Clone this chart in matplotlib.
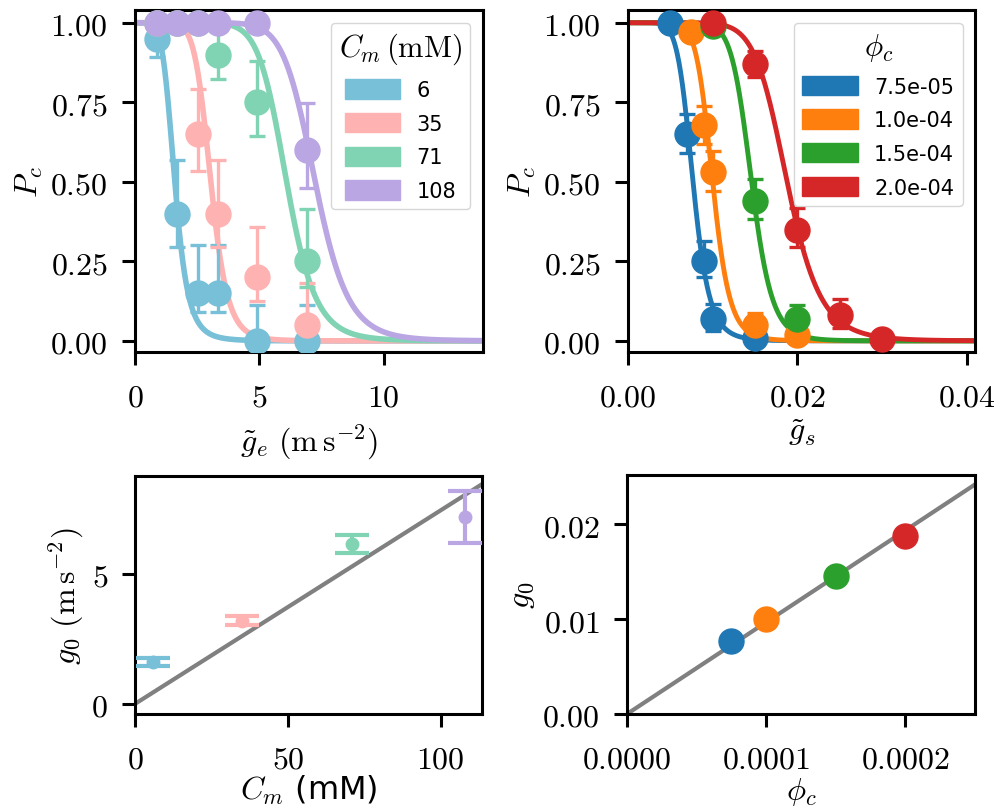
import numpy as np
import matplotlib
matplotlib.use("Agg")
import matplotlib.pyplot as plt
from matplotlib.patches import Patch
from matplotlib.ticker import FuncFormatter

plt.rcParams['mathtext.fontset'] = 'cm'
plt.rcParams['font.family'] = ['DejaVu Sans']

# ---------------- data: top-left (Cm series) ----------------
cm_labels = ['6', '35', '71', '108']
cm_colors = ['#78bfd8', '#ffb2b2', '#80d4b4', '#b9a6e3']
ge_x = [0.87, 1.67, 2.54, 3.35, 4.89, 6.93]
pc_6 = [0.95, 0.40, 0.15, 0.15, 0.00, 0.00]
lo_6 = [0.057, 0.105, 0.058, 0.058, 0.0, 0.0]
hi_6 = [0.05, 0.168, 0.151, 0.151, 0.112, 0.112]
pc_35 = [1.0, 1.0, 0.65, 0.40, 0.20, 0.05]
lo_35 = [0.0, 0.0, 0.116, 0.105, 0.074, 0.05]
hi_35 = [0.0, 0.0, 0.143, 0.168, 0.158, 0.133]
pc_71 = [1.0, 1.0, 1.0, 0.90, 0.75, 0.25]
lo_71 = [0.0, 0.0, 0.0, 0.078, 0.106, 0.081]
hi_71 = [0.0, 0.0, 0.0, 0.10, 0.13, 0.166]
pc_108 = [1.0, 1.0, 1.0, 1.0, 1.0, 0.60]
lo_108 = [0.0, 0.0, 0.0, 0.0, 0.0, 0.118]
hi_108 = [0.0, 0.0, 0.0, 0.0, 0.0, 0.149]
fit_g0_e = [1.6, 3.05, 6.1, 7.25]
fit_n_e = [6.0, 9.0, 10.5, 11.0]

# ---------------- data: top-right (phi series) ----------------
phi_labels = ['7.5e-05', '1.0e-04', '1.5e-04', '2.0e-04']
phi_colors = ['#1f77b4', '#ff7f0e', '#2ca02c', '#d62728']
gs_a = [0.005, 0.007, 0.009, 0.010, 0.015]
pc_a = [1.0, 0.65, 0.25, 0.07, 0.01]
lo_a = [0.0, 0.058, 0.048, 0.04, 0.0]
hi_a = [0.0, 0.063, 0.063, 0.045, 0.0]
gs_b = [0.0075, 0.009, 0.010, 0.015, 0.020]
pc_b = [0.97, 0.68, 0.53, 0.05, 0.02]
lo_b = [0.0, 0.061, 0.06, 0.04, 0.0]
hi_b = [0.0, 0.057, 0.066, 0.037, 0.0]
gs_c = [0.010, 0.015, 0.020]
pc_c = [0.99, 0.44, 0.07]
lo_c = [0.0, 0.058, 0.04]
hi_c = [0.0, 0.068, 0.042]
gs_d = [0.010, 0.015, 0.020, 0.025, 0.030]
pc_d = [1.0, 0.87, 0.35, 0.08, 0.005]
lo_d = [0.0, 0.042, 0.054, 0.04, 0.0]
hi_d = [0.0, 0.042, 0.067, 0.052, 0.0]
fit_g0_s = [0.00768, 0.0100, 0.0146, 0.0188]
fit_n_s = [8.0, 10.0, 12.0, 9.5]

# ---------------- data: bottom panels ----------------
cm_vals = [6, 35, 71, 108]
g0_e = [1.6, 3.2, 6.15, 7.2]
g0_e_err = [0.15, 0.17, 0.35, 1.0]
slope_e = 0.0745
phi_vals = [7.5e-5, 1.0e-4, 1.5e-4, 2.0e-4]
g0_s = [0.00768, 0.0100, 0.0146, 0.0188]
slope_s = 96.8

W, H = 1003, 812
fig = plt.figure(figsize=(W / 100, H / 100), dpi=100)

def ax_px(l, t, r, b):
    return fig.add_axes([l / W, 1 - b / H, (r - l) / W, (b - t) / H])

ax1 = ax_px(135, 11, 483, 353)
ax2 = ax_px(628, 11, 975, 353)
ax3 = ax_px(135, 477, 482, 715)
ax4 = ax_px(627, 476, 975, 715)

TFS = 23
LFS = 23

def style(ax, xt, yt, xf, yf):
    for s in ax.spines.values():
        s.set_linewidth(2.2)
    ax.tick_params(width=2.2, length=9.5, labelsize=TFS)
    ax.tick_params(axis='x', pad=12)
    ax.tick_params(axis='y', pad=10)
    ax.set_xticks(xt)
    ax.set_yticks(yt)
    ax.xaxis.set_major_formatter(FuncFormatter(lambda v, p: '$' + (xf % v) + '$'))
    ax.yaxis.set_major_formatter(FuncFormatter(lambda v, p: '$' + (yf % v) + '$'))

def loglogistic(x, g0, n):
    return 1.0 / (1.0 + (x / g0) ** n)

leg_kw = dict(loc='upper right', fontsize=15, title_fontsize=22, handlelength=2.65,
              handleheight=1.05, labelspacing=0.62, borderaxespad=0.6)

# ---- top-left ----
series_e = [(pc_6, lo_6, hi_6), (pc_35, lo_35, hi_35), (pc_71, lo_71, hi_71), (pc_108, lo_108, hi_108)]
xx = np.linspace(1e-4, 14, 600)
for (p, lo, hi), c, g0, n in zip(series_e, cm_colors, fit_g0_e, fit_n_e):
    ax1.plot(xx, loglogistic(xx, g0, n), color=c, lw=4, zorder=2)
for (p, lo, hi), c in zip(series_e, cm_colors):
    ax1.errorbar(ge_x, p, yerr=[lo, hi], fmt='o', color=c, ms=18, elinewidth=2.4,
                 capsize=6, capthick=2.4, zorder=3)
ax1.set_xlim(0, 14)
ax1.set_ylim(-0.035, 1.04)
style(ax1, [0, 5, 10], [0, 0.25, 0.5, 0.75, 1.0], '%g', '%.2f')
ax1.set_xlabel(r'$\tilde{g}_e\ (\mathrm{m\,s^{-2}})$', fontsize=LFS, labelpad=6)
ax1.set_ylabel(r'$P_c$', fontsize=LFS)
h1 = [Patch(color=c) for c in cm_colors]
ax1.legend(h1, cm_labels, title=r'$C_m\,(\mathrm{mM})$', **leg_kw)

# ---- top-right ----
series_s = [(gs_a, pc_a, lo_a, hi_a), (gs_b, pc_b, lo_b, hi_b),
            (gs_c, pc_c, lo_c, hi_c), (gs_d, pc_d, lo_d, hi_d)]
xs = np.linspace(1e-6, 0.041, 600)
for (gx, p, lo, hi), c, g0, n in zip(series_s, phi_colors, fit_g0_s, fit_n_s):
    ax2.plot(xs, loglogistic(xs, g0, n), color=c, lw=3.5, zorder=2)
    ax2.errorbar(gx, p, yerr=[lo, hi], fmt='o', color=c, ms=18, elinewidth=2.4,
                 capsize=6, capthick=2.4, zorder=3)
ax2.set_xlim(0, 0.041)
ax2.set_ylim(-0.035, 1.04)
style(ax2, [0, 0.02, 0.04], [0, 0.25, 0.5, 0.75, 1.0], '%.2f', '%.2f')
ax2.set_xlabel(r'$\tilde{g}_s$', fontsize=LFS, labelpad=2)
ax2.set_ylabel(r'$P_c$', fontsize=LFS)
h2 = [Patch(color=c) for c in phi_colors]
ax2.legend(h2, phi_labels, title=r'$\phi_c$', **leg_kw)

# ---- bottom-left ----
xl = np.array([0, 113.5])
ax3.plot(xl, slope_e * xl, color='gray', lw=3, zorder=1)
for x, y, e, c in zip(cm_vals, g0_e, g0_e_err, cm_colors):
    ax3.errorbar([x], [y], yerr=[e], fmt='o', color=c, ms=9, elinewidth=3,
                 capsize=12, capthick=3, zorder=3)
ax3.set_xlim(0, 113.5)
ax3.set_ylim(-0.39, 8.77)
style(ax3, [0, 50, 100], [0, 5], '%g', '%g')
ax3.set_xlabel(r'$C_m$ (mM)', fontsize=LFS, labelpad=-2)
ax3.set_ylabel(r'$g_0\ (\mathrm{m\,s^{-2}})$', fontsize=LFS)

# ---- bottom-right ----
xr = np.array([0, 0.00025])
ax4.plot(xr, slope_s * xr, color='gray', lw=3, zorder=1)
for x, y, c in zip(phi_vals, g0_s, phi_colors):
    ax4.plot([x], [y], 'o', color=c, ms=18, zorder=3)
ax4.set_xlim(0, 0.00025)
ax4.set_ylim(0, 0.0252)
style(ax4, [0, 0.0001, 0.0002], [0, 0.01, 0.02], '%.4f', '%.2f')
ax4.set_xlabel(r'$\phi_c$', fontsize=LFS, labelpad=0)
ax4.set_ylabel(r'$g_0$', fontsize=LFS)

fig.savefig('out.png', dpi=100)
